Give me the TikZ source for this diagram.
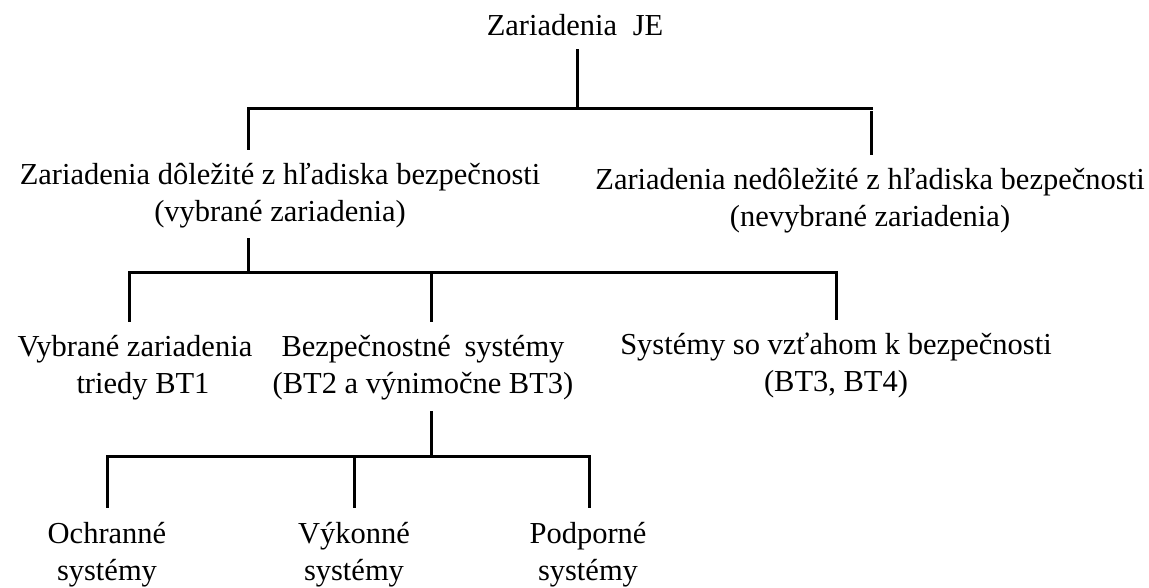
\documentclass[tikz,border=0pt]{standalone}
\usepackage{fontspec}
\setmainfont{Liberation Serif}
\begin{document}
\begin{tikzpicture}[x=1pt,y=-1pt,
  lbl/.style={anchor=base,inner sep=0pt,align=center,font=\fontsize{30.5}{36.5}\selectfont},
  tree/.style={line width=3pt,line join=miter,line cap=rect,black}]
\useasboundingbox[fill=white] (0,0) rectangle (1149,587);
% nodes (base = baseline of the last line)
\node[lbl] (root) at (575,35) {Zariadenia\hspace{8pt} JE};
\node[lbl] (A) at (280,221) {Zariadenia dôležité z hľadiska bezpečnosti\\(vybrané zariadenia)};
\node[lbl] (B) at (870,226) {Zariadenia nedôležité z hľadiska bezpečnosti\\(nevybrané zariadenia)};
\node[lbl] (C1) at (135,393) {Vybrané zariadenia\\\hspace*{16pt}triedy BT1};
\node[lbl] (C2) at (423,393) {Bezpečnostné\hspace{6pt} systémy\\(BT2 a výnimočne BT3)};
\node[lbl] (C3) at (836,391) {Systémy so vzťahom k bezpečnosti\\(BT3, BT4)};
\node[lbl] (D1) at (107,580) {Ochranné\\systémy};
\node[lbl] (D2) at (354,580) {Výkonné\\systémy};
\node[lbl] (D3) at (588,580) {Podporné\\systémy};
% skeleton coordinates
\coordinate (r0) at (577,50);
\coordinate (r1) at (577,108);
\coordinate (b1l) at (248,108);
\coordinate (b1r) at (871,108);
\coordinate (bS) at (871,112);
\coordinate (aT) at (248,148);
\coordinate (bT) at (871,153);
\coordinate (a0) at (248,239);
\coordinate (a1) at (248,272);
\coordinate (b2l) at (129,272);
\coordinate (b2m) at (431,272);
\coordinate (b2r) at (836,272);
\coordinate (c1T) at (129,320);
\coordinate (c2T) at (431,320);
\coordinate (c3T) at (836,318);
\coordinate (c0) at (431,412);
\coordinate (c1) at (431,456);
\coordinate (b3l) at (107,456);
\coordinate (b3m) at (354,456);
\coordinate (b3r) at (589,456);
\coordinate (d1T) at (107,506);
\coordinate (d2T) at (354,506);
\coordinate (d3T) at (589,506);
% connectors
\draw[tree] (r0) -- (r1);
\draw[tree] (aT) -- (b1l) -- (b1r);
\draw[tree] (bS) -- (bT);
\draw[tree] (a0) -- (a1);
\draw[tree] (c1T) -- (b2l) -- (b2r) -- (c3T);
\draw[tree] (b2m) -- (c2T);
\draw[tree] (c0) -- (c1);
\draw[tree] (d1T) -- (b3l) -- (b3r) -- (d3T);
\draw[tree] (b3m) -- (d2T);
\end{tikzpicture}
\end{document}
